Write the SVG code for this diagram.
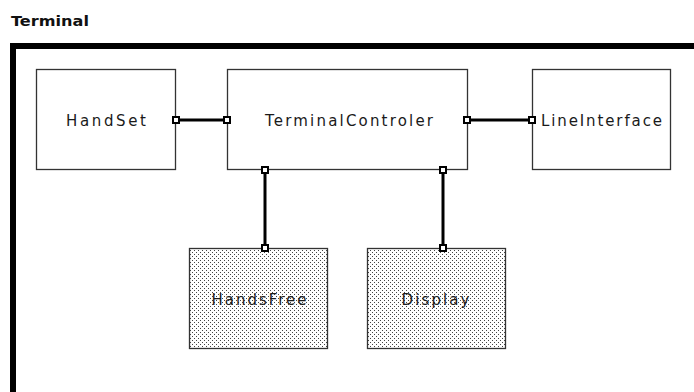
<svg xmlns="http://www.w3.org/2000/svg" width="694" height="392" viewBox="0 0 694 392">
  <style>
    .box { fill: #ffffff; stroke: #333333; stroke-width: 1.3; }
    .sub { fill: url(#dots); stroke: #333333; stroke-width: 1.3; }
    .lbl { font-family: "DejaVu Sans", "Liberation Sans", sans-serif; font-size: 15px; fill: #1a1a1a; text-anchor: middle; }
    .title { font-family: "DejaVu Sans", "Liberation Sans", sans-serif; font-size: 14px; font-weight: bold; fill: #111111; }
    .wire { stroke: #000000; stroke-width: 3; fill: none; }
    .port { fill: #ffffff; stroke: #000000; stroke-width: 2; }
  </style>
  <defs>
    <pattern id="dots" width="4" height="4" patternUnits="userSpaceOnUse">
      <rect width="4" height="4" fill="#ffffff"/>
      <rect x="0" y="0" width="1" height="1" fill="#444444"/>
      <rect x="2" y="2" width="1" height="1" fill="#444444"/>
    </pattern>
  </defs>

  <rect width="694" height="392" fill="#ffffff"/>

  <!-- enclosing structure -->
  <text class="title" x="11" y="26" textLength="78" lengthAdjust="spacingAndGlyphs">Terminal</text>
  <path d="M13,392 V46 H694" fill="none" stroke="#000000" stroke-width="6"/>

  <g id="HandSet">
    <rect class="box" x="36.5" y="69.5" width="139" height="100"/>
    <text class="lbl" x="106" y="126" textLength="80" lengthAdjust="spacing">HandSet</text>
  </g>

  <g id="TerminalControler">
    <rect class="box" x="227.5" y="69.5" width="240" height="100"/>
    <text class="lbl" x="349" y="126" textLength="168" lengthAdjust="spacing">TerminalControler</text>
  </g>

  <g id="LineInterface">
    <rect class="box" x="532.5" y="69.5" width="138" height="100"/>
    <text class="lbl" x="601.5" y="126" textLength="121" lengthAdjust="spacing">LineInterface</text>
  </g>

  <g id="HandsFree">
    <rect class="sub" x="189.5" y="248.5" width="138" height="100"/>
    <text class="lbl" x="259" y="305" textLength="95" lengthAdjust="spacing">HandsFree</text>
  </g>

  <g id="Display">
    <rect class="sub" x="367.5" y="248.5" width="138" height="100"/>
    <text class="lbl" x="435.5" y="305" textLength="68" lengthAdjust="spacing">Display</text>
  </g>

  <g id="connectors">
    <line class="wire" x1="176" y1="120" x2="227" y2="120"/>
    <line class="wire" x1="468" y1="120" x2="532" y2="120"/>
    <line class="wire" x1="265" y1="170" x2="265" y2="248"/>
    <line class="wire" x1="443" y1="170" x2="443" y2="248"/>
    <rect class="port" x="173" y="117" width="6" height="6"/>
    <rect class="port" x="224" y="117" width="6" height="6"/>
    <rect class="port" x="464" y="117" width="6" height="6"/>
    <rect class="port" x="529" y="117" width="6" height="6"/>
    <rect class="port" x="262" y="167" width="6" height="6"/>
    <rect class="port" x="440" y="167" width="6" height="6"/>
    <rect class="port" x="262" y="245" width="6" height="6"/>
    <rect class="port" x="440" y="245" width="6" height="6"/>
  </g>
</svg>
